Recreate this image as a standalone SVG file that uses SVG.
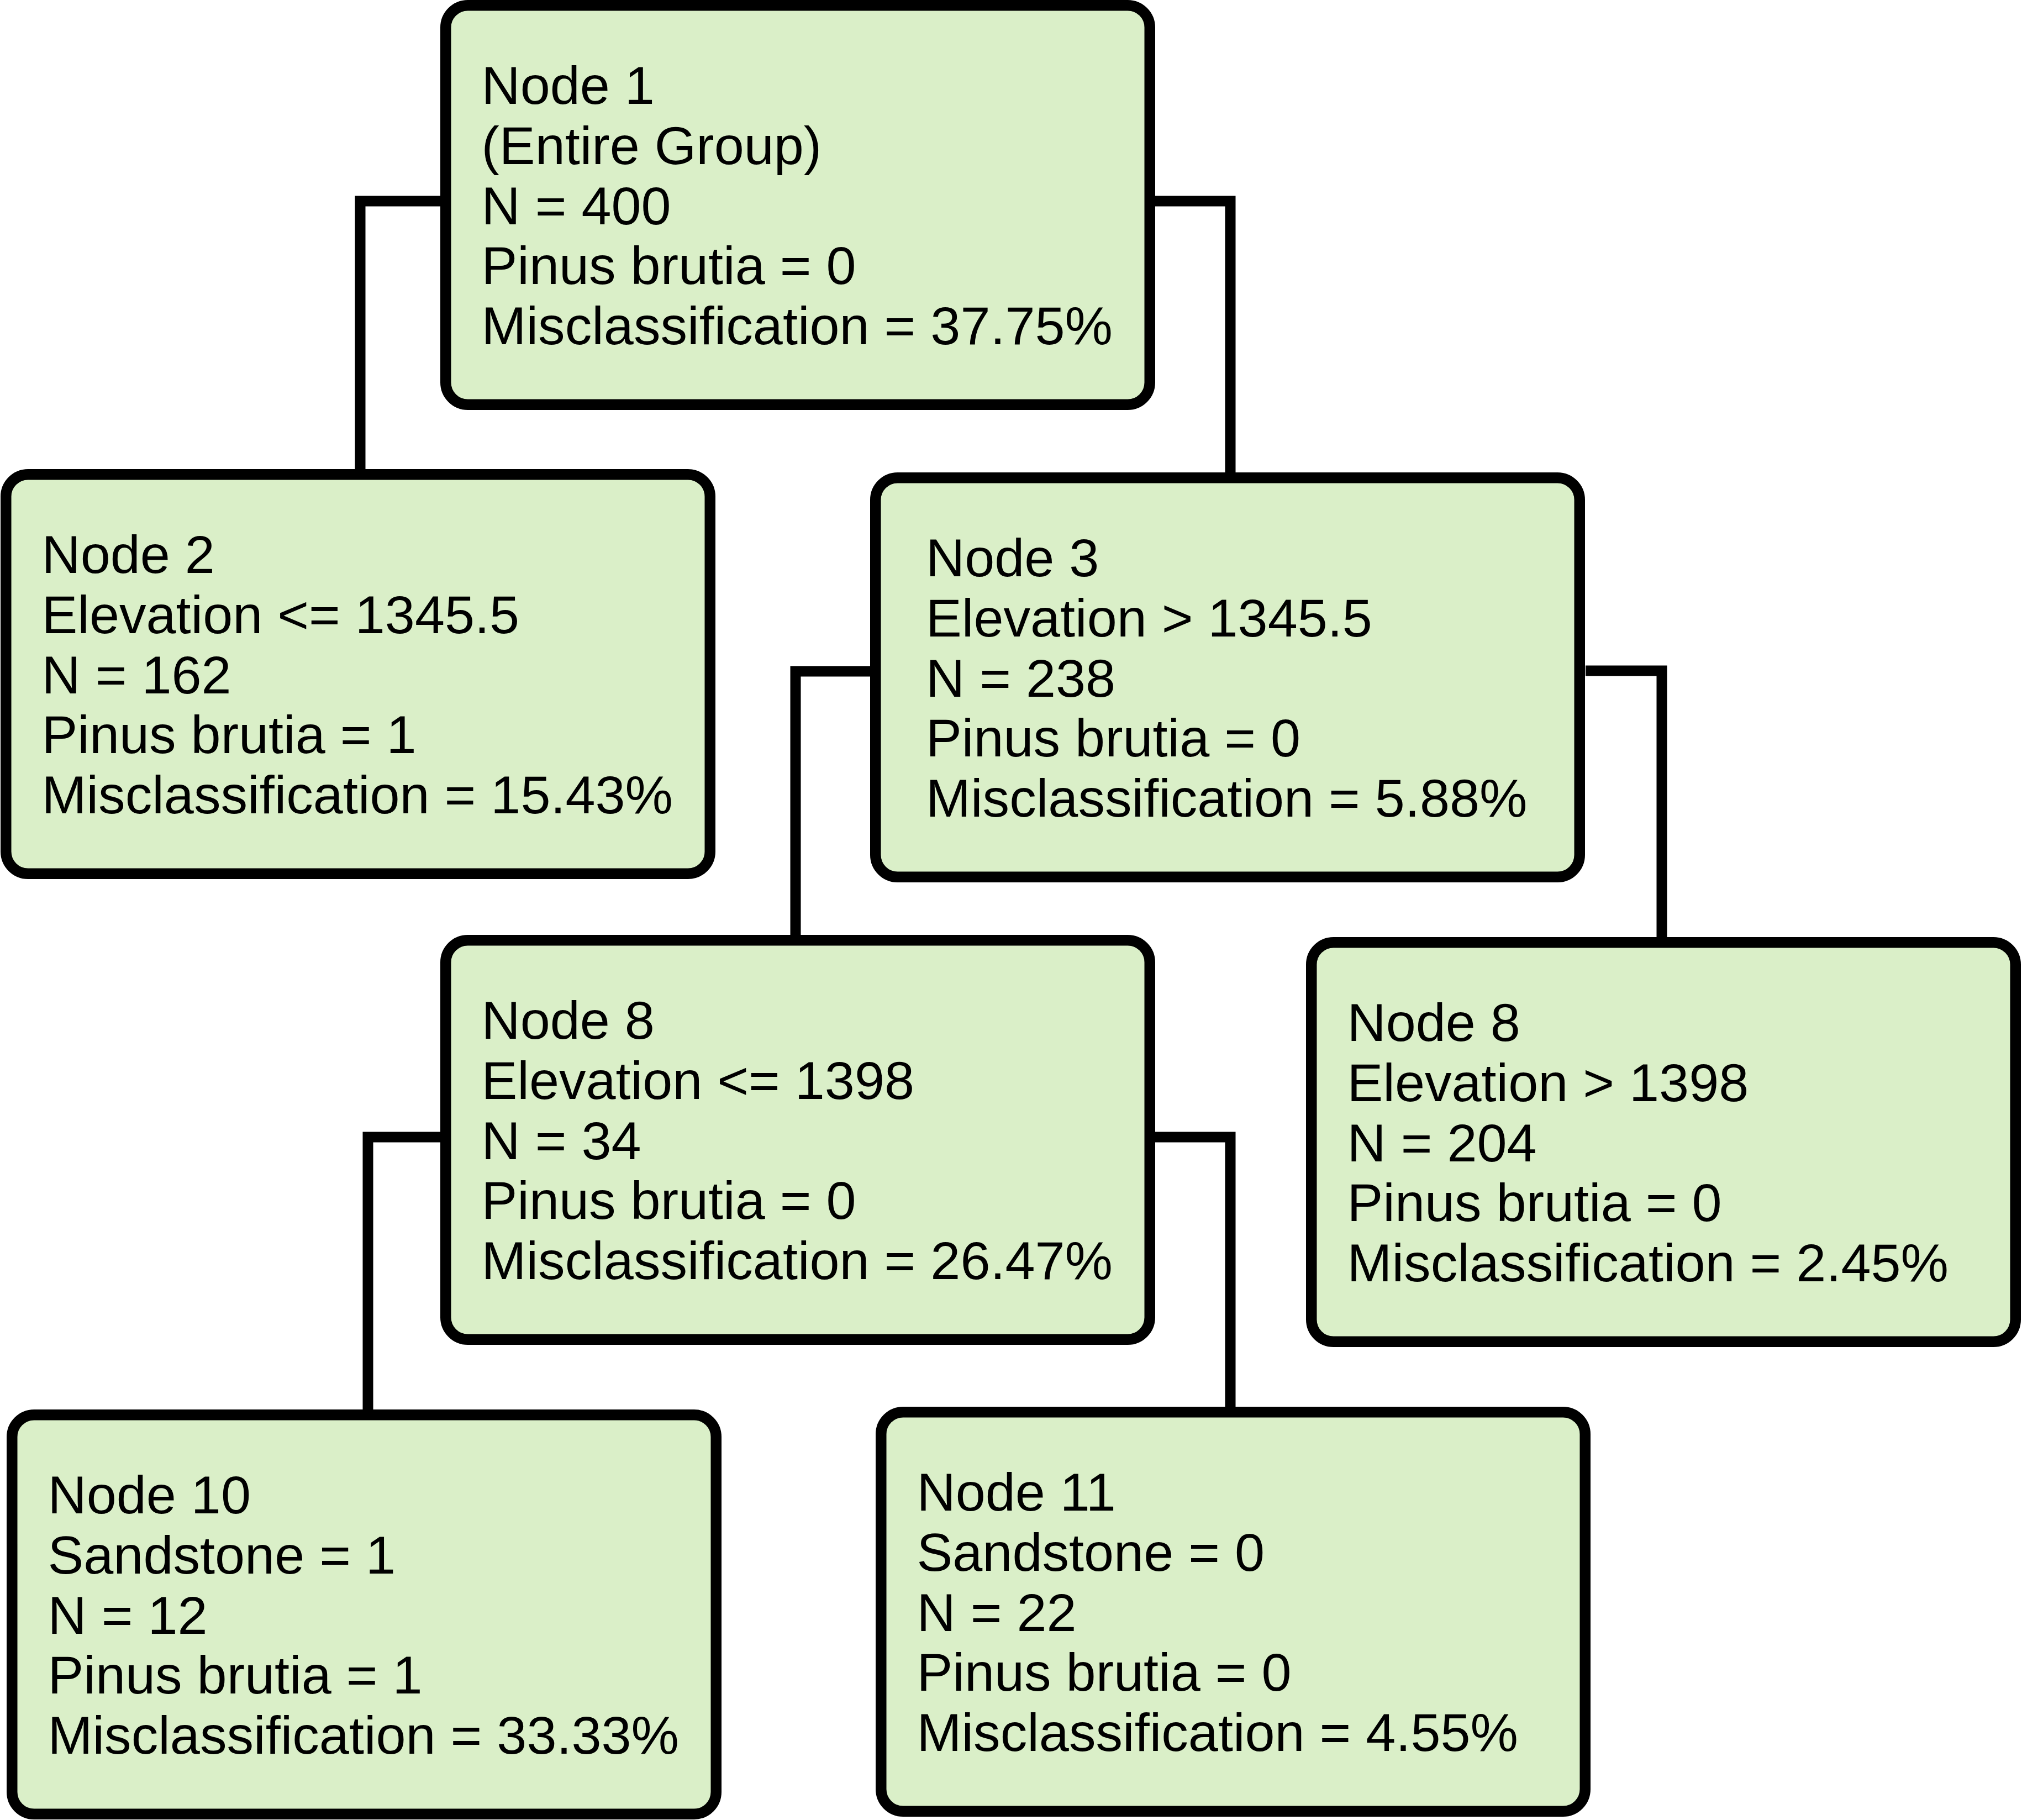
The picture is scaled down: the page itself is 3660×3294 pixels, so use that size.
<svg xmlns="http://www.w3.org/2000/svg" width="3660" height="3294" viewBox="0 0 3660 3294">
<style>
.box{fill:#daefc8;stroke:#000;stroke-width:19.5}
.lbl{font-family:"Liberation Sans",Arial,sans-serif;font-size:97.2px;fill:#000}
.conn{fill:none;stroke:#000;stroke-width:19;stroke-linejoin:miter;stroke-linecap:butt}
</style>
<rect width="3660" height="3294" fill="#fff"/>
<g id="connectors">
<path class="conn" d="M797 364 H652 V849"/>
<path class="conn" d="M2091 364 H2227 V855"/>
<path class="conn" d="M1575 1215 H1440 V1692"/>
<path class="conn" d="M2870 1214 H3008 V1696"/>
<path class="conn" d="M797 2058 H666 V2551"/>
<path class="conn" d="M2091 2058 H2227 V2546"/>
</g>
<g id="node1">
<rect class="box" x="806.75" y="9.75" width="1274.5" height="722.5" rx="40"/>
<text class="lbl" x="871.5" y="188"><tspan x="871.5">Node 1</tspan><tspan x="871.5" dy="108.75">(Entire Group)</tspan><tspan x="871.5" dy="108.75">N = 400</tspan><tspan x="871.5" dy="108.75">Pinus brutia = 0</tspan><tspan x="871.5" dy="108.75">Misclassification = 37.75%</tspan></text>
</g>
<g id="node2">
<rect class="box" x="10.75" y="858.75" width="1274.5" height="722.5" rx="40"/>
<text class="lbl" x="75.5" y="1037"><tspan x="75.5">Node 2</tspan><tspan x="75.5" dy="108.75">Elevation &lt;= 1345.5</tspan><tspan x="75.5" dy="108.75">N = 162</tspan><tspan x="75.5" dy="108.75">Pinus brutia = 1</tspan><tspan x="75.5" dy="108.75">Misclassification = 15.43%</tspan></text>
</g>
<g id="node3">
<rect class="box" x="1584.75" y="864.75" width="1274.5" height="722.5" rx="40"/>
<text class="lbl" x="1676" y="1043"><tspan x="1676">Node 3</tspan><tspan x="1676" dy="108.75">Elevation &gt; 1345.5</tspan><tspan x="1676" dy="108.75">N = 238</tspan><tspan x="1676" dy="108.75">Pinus brutia = 0</tspan><tspan x="1676" dy="108.75">Misclassification = 5.88%</tspan></text>
</g>
<g id="node8a">
<rect class="box" x="806.75" y="1701.75" width="1274.5" height="722.5" rx="40"/>
<text class="lbl" x="871.5" y="1880"><tspan x="871.5">Node 8</tspan><tspan x="871.5" dy="108.75">Elevation &lt;= 1398</tspan><tspan x="871.5" dy="108.75">N = 34</tspan><tspan x="871.5" dy="108.75">Pinus brutia = 0</tspan><tspan x="871.5" dy="108.75">Misclassification = 26.47%</tspan></text>
</g>
<g id="node8b">
<rect class="box" x="2373.75" y="1705.75" width="1274.5" height="722.5" rx="40"/>
<text class="lbl" x="2438.5" y="1884"><tspan x="2438.5">Node 8</tspan><tspan x="2438.5" dy="108.75">Elevation &gt; 1398</tspan><tspan x="2438.5" dy="108.75">N = 204</tspan><tspan x="2438.5" dy="108.75">Pinus brutia = 0</tspan><tspan x="2438.5" dy="108.75">Misclassification = 2.45%</tspan></text>
</g>
<g id="node10">
<rect class="box" x="21.75" y="2560.75" width="1274.5" height="722.5" rx="40"/>
<text class="lbl" x="86.5" y="2739"><tspan x="86.5">Node 10</tspan><tspan x="86.5" dy="108.75">Sandstone = 1</tspan><tspan x="86.5" dy="108.75">N = 12</tspan><tspan x="86.5" dy="108.75">Pinus brutia = 1</tspan><tspan x="86.5" dy="108.75">Misclassification = 33.33%</tspan></text>
</g>
<g id="node11">
<rect class="box" x="1594.75" y="2555.75" width="1274.5" height="722.5" rx="40"/>
<text class="lbl" x="1659.5" y="2734"><tspan x="1659.5">Node 11</tspan><tspan x="1659.5" dy="108.75">Sandstone = 0</tspan><tspan x="1659.5" dy="108.75">N = 22</tspan><tspan x="1659.5" dy="108.75">Pinus brutia = 0</tspan><tspan x="1659.5" dy="108.75">Misclassification = 4.55%</tspan></text>
</g>
</svg>
